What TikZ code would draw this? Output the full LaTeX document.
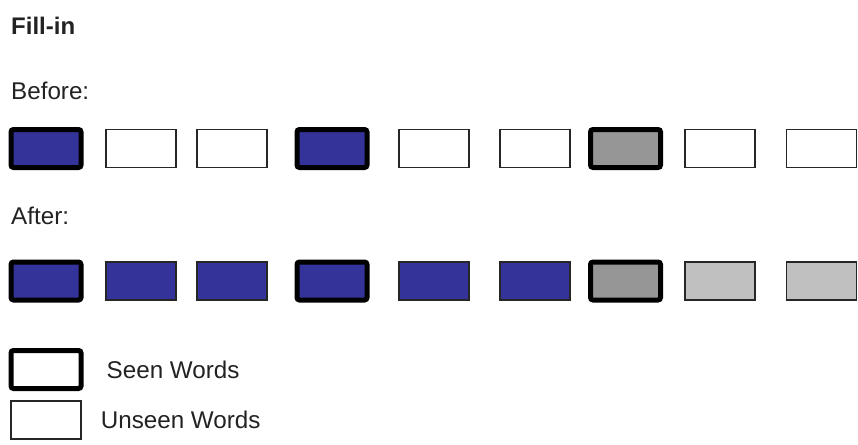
\documentclass[tikz,border=0pt]{standalone}
\usepackage{fontspec}
\setmainfont{Liberation Sans}
\usepackage{xcolor}
\usetikzlibrary{positioning}

\definecolor{seenblue}{RGB}{51,51,153}
\definecolor{midgray}{RGB}{150,150,150}
\definecolor{lightgray}{RGB}{192,192,192}
\definecolor{inkgray}{RGB}{34,34,34}

\begin{document}
\begin{tikzpicture}[x=1pt,y=-1pt,
  font=\fontsize{24.2}{28}\selectfont, text=inkgray,
  word/.style={draw=black!85,line width=1.3pt,minimum width=70pt,minimum height=38pt,
               inner sep=0pt,fill=white},
  seen/.style={word,draw=black,line width=5pt,rounded corners=2.5pt},
  lbl/.style={anchor=base west,inner sep=0pt}]
  \useasboundingbox (0,0) rectangle (858,444);
  % --- headings ---
  \node[lbl,font=\fontsize{24}{28}\selectfont\bfseries] (title) at (11,35) {Fill-in};
  \node[lbl] (before) at (11,99) {Before:};
  \node[lbl] (after) at (11,224) {After:};
  % --- before: only the seen words carry a colour ---
  \foreach \x/\s/\c [count=\i] in {46/seen/seenblue,141/word/white,232/word/white,
      332/seen/seenblue,434/word/white,535/word/white,625.5/seen/midgray,
      720/word/white,821.5/word/white}
    \node[\s,fill=\c] (b\i) at (\x,148.5) {};
  % --- after: unseen words are filled in ---
  \foreach \x/\s/\c [count=\i] in {46/seen/seenblue,141/word/seenblue,232/word/seenblue,
      332/seen/seenblue,434/word/seenblue,535/word/seenblue,625.5/seen/midgray,
      720/word/lightgray,821.5/word/lightgray}
    \node[\s,fill=\c] (a\i) at (\x,281) {};
  % --- legend ---
  \node[seen] (kseen) at (46,369.5) {};
  \node[right=23pt of kseen,inner sep=0pt] (tseen) {Seen Words};
  \node[word] (kunseen) at (46,420) {};
  \node[right=19pt of kunseen,inner sep=0pt] (tunseen) {Unseen Words};
\end{tikzpicture}
\end{document}
